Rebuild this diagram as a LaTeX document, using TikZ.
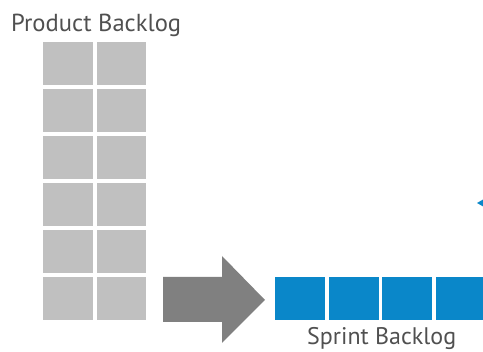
\documentclass[tikz,border=0pt]{standalone}
\usepackage{fontspec}
\setmainfont{PT Sans}
\usetikzlibrary{positioning}
\definecolor{itemgray}{HTML}{C0C0C0}
\definecolor{arrowgray}{HTML}{808080}
\definecolor{sprintblue}{HTML}{0A87C9}
\definecolor{labelgray}{HTML}{505050}

\begin{document}
\begin{tikzpicture}[x=1pt,y=-1pt,
    item/.style={fill=itemgray},
    task/.style={fill=sprintblue},
    title/.style={text=labelgray,font=\fontsize{24.6}{26}\selectfont,inner sep=0pt}]
    \useasboundingbox (0,0) rectangle (483,352);
    \clip (0,0) rectangle (483,352);

    % Product Backlog: 2 x 6
    \foreach \r in {0,...,5} {
        \fill[item] (43,42+47*\r) rectangle ++(50,43);
        \fill[item] (97,42+47*\r) rectangle ++(49,43);
    }

    % Arrow
    \coordinate (T) at (265,300);
    \fill[arrowgray] (163,277) -- (222,277) -- (222,256) -- (T) -- (222,343) -- (222,322) -- (163,322) -- cycle;

    % Sprint Backlog
    \foreach \c in {0,...,3}
        \fill[task] (275+53.7*\c,277) rectangle ++(50,43);

    % blue mark at the right edge
    \fill[sprintblue] (477,203) -- (484,199) -- (484,207) -- cycle;

    % Labels
    \node[title,anchor=base west] (pb) at (11,32) {Product Backlog};
    \node[title,anchor=base west,font=\fontsize{24}{26}\selectfont] (sb) at (307,345) {Sprint Backlog};
\end{tikzpicture}
\end{document}
